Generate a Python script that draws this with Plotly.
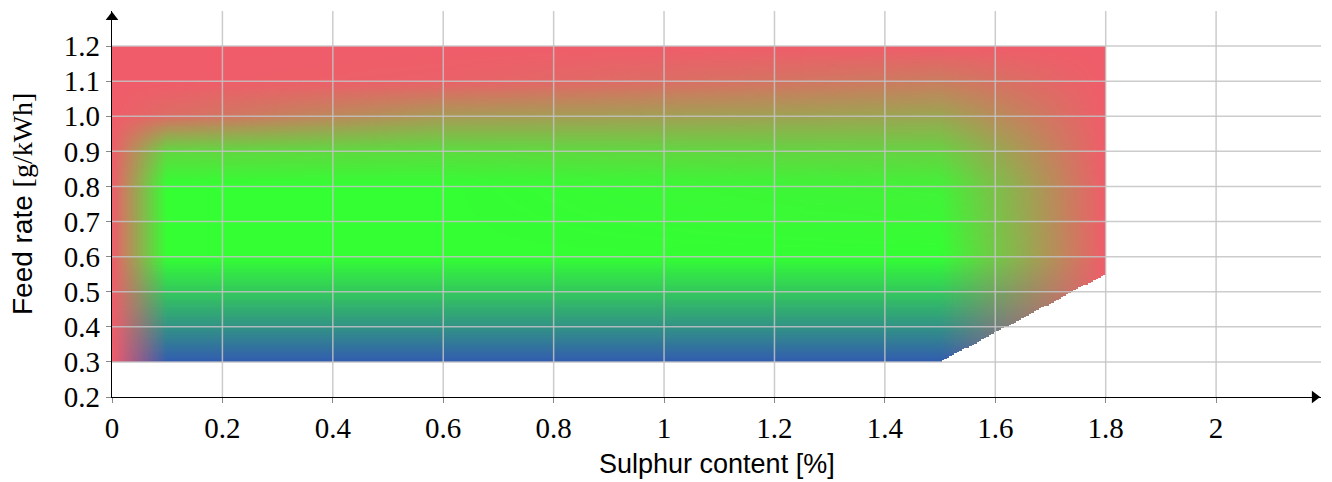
import numpy as np
import plotly.graph_objects as go

# ---------------- data ----------------
# mesh nodes of the shaded operating region (bilinear colour shading)
node_x = [0.0, 0.1, 0.6, 1.5, 1.8]
node_y = [0.3, 0.6, 0.8, 0.9, 1.0, 1.1, 1.2]
# share of "red" (outside limits) colour at each node, rows follow node_y
red_weight = [
    [1, 0.00, 0.00, 0.00, 1],
    [1, 0.00, 0.00, 0.00, 1],
    [1, 0.00, 0.00, 0.08, 1],
    [1, 0.25, 0.22, 0.28, 1],
    [1, 0.90, 0.62, 0.55, 1],
    [1, 1.00, 0.97, 0.80, 1],
    [1, 1.00, 1.00, 1.00, 1],
]
# share of "blue" (low feed) colour at each node
blue_weight = [
    [0, 1, 1, 1, 0],
    [0, 0, 0, 0, 0],
    [0, 0, 0, 0, 0],
    [0, 0, 0, 0, 0],
    [0, 0, 0, 0, 0],
    [0, 0, 0, 0, 0],
    [0, 0, 0, 0, 0],
]
# outline of the region
region_x = [0.0, 1.5, 1.8, 1.8, 0.0]
region_y = [0.3, 0.3, 0.55, 1.2, 1.2]

x_ticks = [0, 0.2, 0.4, 0.6, 0.8, 1, 1.2, 1.4, 1.6, 1.8, 2]
x_ticktext = ["0", "0.2", "0.4", "0.6", "0.8", "1", "1.2", "1.4", "1.6", "1.8", "2"]
y_ticks = [0.2, 0.3, 0.4, 0.5, 0.6, 0.7, 0.8, 0.9, 1.0, 1.1, 1.2]
y_ticktext = ["0.2", "0.3", "0.4", "0.5", "0.6", "0.7", "0.8", "0.9", "1.0", "1.1", "1.2"]

x_title = "Sulphur content [%]"
y_title_sans = "Feed rate "
y_title_math = "[g/kWh]"

# ---------------- styles ----------------
RED = np.array([240, 92, 106], float)
GREEN = np.array([51, 255, 51], float)
BLUE = np.array([50, 92, 175], float)
XMAX, YMIN, YMAX = 2.19, 0.2, 1.3
GRID = "rgba(195,195,195,0.85)"
SERIF = "Liberation Serif"
SANS = "Liberation Sans"
PX_PER_X = 552.0   # approx. pixels per x unit
PX_PER_Y = 352.0   # approx. pixels per y unit
ARROW = 11         # arrow marker size

# ---------------- shading ----------------
x_lo, x_hi = min(region_x), max(region_x)
y_lo, y_hi = min(region_y), max(region_y)
nx, ny = 400, 225
dx = (x_hi - x_lo) / nx
dy = (y_hi - y_lo) / ny
xs = x_lo + (np.arange(nx) + 0.5) * dx
ys = y_lo + (np.arange(ny) + 0.5) * dy


def bilinear(W):
    W = np.asarray(W, float)
    rows = np.array([np.interp(xs, node_x, W[j]) for j in range(len(node_y))])
    out = np.empty((ny, nx))
    for i in range(nx):
        out[:, i] = np.interp(ys, node_y, rows[:, i])
    return out


def inside(px, py, vx, vy):
    res = np.zeros(px.shape, bool)
    n = len(vx)
    j = n - 1
    for i in range(n):
        xi, yi, xj, yj = vx[i], vy[i], vx[j], vy[j]
        if yi != yj:
            cond = ((yi > py) != (yj > py)) & (px < (xj - xi) * (py - yi) / (yj - yi) + xi)
            res ^= cond
        j = i
    return res


wr = np.clip(bilinear(red_weight), 0, 1)
wb = np.clip(bilinear(blue_weight), 0, 1)
wg = np.clip(1 - wr - wb, 0, 1)
img = wr[..., None] * RED + wg[..., None] * GREEN + wb[..., None] * BLUE
PX, PY = np.meshgrid(xs, ys)
mask = inside(PX, PY, region_x, region_y)
img[~mask] = 255
img = np.clip(np.round(img), 0, 255).astype(int)

fig = go.Figure()
fig.add_trace(go.Image(z=img.tolist(), x0=x_lo + dx / 2, y0=y_lo + dy / 2,
                       dx=dx, dy=dy, colormodel="rgb", hoverinfo="skip"))

# axis arrow heads
tip = ARROW / 2 * 2 / np.sqrt(3)
fig.add_trace(go.Scatter(x=[XMAX - tip / PX_PER_X], y=[YMIN], mode="markers",
                         marker=dict(symbol="triangle-right", size=ARROW, color="black"),
                         cliponaxis=False, hoverinfo="skip", showlegend=False))
fig.add_trace(go.Scatter(x=[0], y=[YMAX - tip / PX_PER_Y], mode="markers",
                         marker=dict(symbol="triangle-up", size=ARROW, color="black"),
                         cliponaxis=False, hoverinfo="skip", showlegend=False))

# grid lines above the shading
shapes = []
for xv in x_ticks[1:]:
    shapes.append(dict(type="line", xref="x", yref="y", x0=xv, x1=xv, y0=YMIN, y1=YMAX,
                       line=dict(color=GRID, width=1.5), layer="above"))
for yv in y_ticks[1:]:
    shapes.append(dict(type="line", xref="x", yref="y", x0=0, x1=XMAX, y0=yv, y1=yv,
                       line=dict(color=GRID, width=1.5), layer="above"))

annotations = [
    dict(x=0.5, y=-0.173, xref="paper", yref="paper", text=x_title, showarrow=False,
         font=dict(family=SANS, size=27, color="black"), xanchor="center", yanchor="middle"),
    dict(x=-0.0744, y=0.5, xref="paper", yref="paper", textangle=-90, showarrow=False,
         text=y_title_sans + '<span style="font-family:' + SERIF + '">' + y_title_math + "</span>",
         font=dict(family=SANS, size=28, color="black"), xanchor="center", yanchor="middle"),
]

fig.update_layout(
    width=1324, height=474,
    margin=dict(l=104, r=11, t=3, b=85),
    paper_bgcolor="white", plot_bgcolor="white",
    showlegend=False,
    shapes=shapes, annotations=annotations,
    xaxis=dict(range=[0, XMAX], tickvals=x_ticks, ticktext=x_ticktext, showgrid=False,
               zeroline=False, showline=True, linecolor="black", linewidth=1.3,
               ticks="outside", ticklen=5, tickcolor="#888", tickwidth=1.3,
               tickfont=dict(family=SERIF, size=29, color="black"), layer="above traces"),
    yaxis=dict(range=[YMIN, YMAX], tickvals=y_ticks, ticktext=y_ticktext, showgrid=False,
               zeroline=False, showline=True, linecolor="black", linewidth=1.3,
               ticks="outside", ticklen=5, tickcolor="#888", tickwidth=1.3,
               tickfont=dict(family=SERIF, size=29, color="black"), layer="above traces",
               scaleanchor=False),
)

fig.write_html("out.html")
